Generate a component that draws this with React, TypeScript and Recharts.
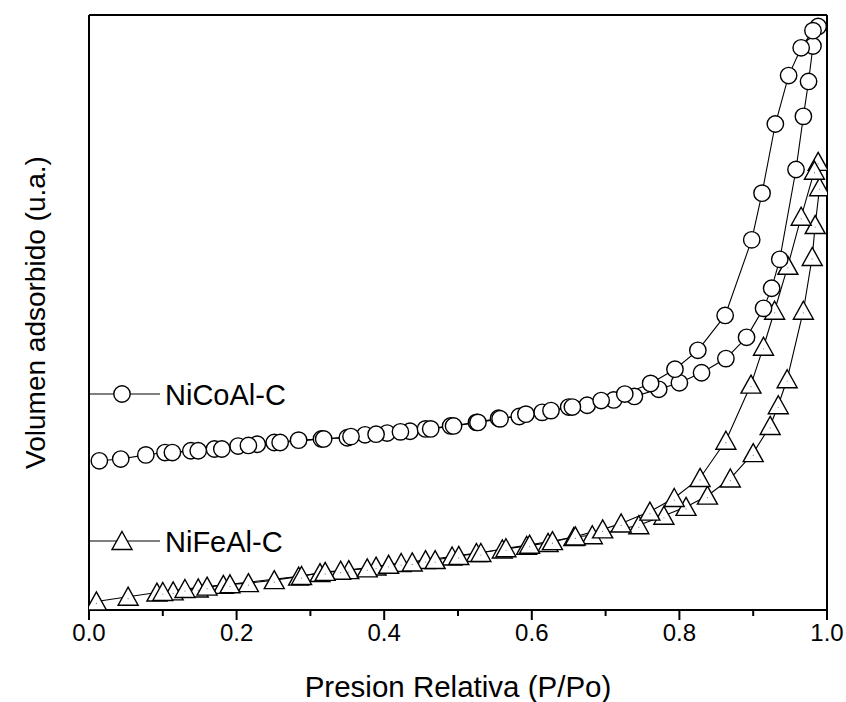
import React from 'react';
import { ComposedChart, Line, XAxis, YAxis } from 'recharts';

// relative pressure P/Po and adsorbed volume (arbitrary units)
const nicoAds = [
  [0.014, 24.4], [0.043, 24.7], [0.077, 25.4], [0.103, 25.8], [0.138, 26.1], [0.170, 26.4],
  [0.202, 26.9], [0.228, 27.2], [0.251, 27.5], [0.284, 27.9], [0.315, 28.1], [0.350, 28.3],
  [0.374, 28.8], [0.404, 29.1], [0.435, 29.4], [0.456, 29.8], [0.490, 30.3], [0.525, 30.9],
  [0.555, 31.6], [0.583, 31.9], [0.614, 32.6], [0.650, 33.5], [0.675, 33.8], [0.711, 34.7],
  [0.739, 35.3], [0.772, 36.5], [0.800, 37.6], [0.830, 39.3], [0.863, 41.7], [0.891, 45.3],
  [0.914, 50.2], [0.925, 53.6], [0.936, 58.5], [0.958, 73.7], [0.968, 82.7], [0.975, 88.6],
  [0.981, 94.6], [0.988, 97.9],
];
const nicoDes = [
  [0.981, 97.2], [0.965, 94.3], [0.948, 89.6], [0.930, 81.4], [0.912, 69.7], [0.898, 61.8],
  [0.862, 49.0], [0.825, 43.1], [0.794, 39.9], [0.761, 37.5], [0.726, 35.7], [0.694, 34.6],
  [0.655, 33.5], [0.626, 32.9], [0.592, 32.3], [0.557, 31.5], [0.527, 30.9], [0.494, 30.3],
  [0.463, 29.8], [0.422, 29.3], [0.389, 28.9], [0.355, 28.5], [0.318, 28.1], [0.259, 27.5],
  [0.216, 27.0], [0.180, 26.4], [0.148, 26.1], [0.113, 25.8],
];
const nifeAds = [
  [0.010, 0.6], [0.053, 1.4], [0.092, 2.1], [0.114, 2.3], [0.148, 2.8], [0.182, 3.4],
  [0.216, 3.7], [0.251, 4.2], [0.284, 4.8], [0.313, 5.4], [0.352, 5.9], [0.389, 6.5],
  [0.423, 7.1], [0.456, 7.6], [0.492, 8.2], [0.525, 8.8], [0.560, 9.4], [0.593, 10.0],
  [0.622, 10.5], [0.657, 11.5], [0.682, 11.8], [0.745, 13.5], [0.779, 15.1], [0.809, 16.6],
  [0.838, 18.5], [0.869, 21.4], [0.900, 25.7], [0.923, 30.3], [0.934, 33.8], [0.946, 38.2],
  [0.968, 49.8], [0.980, 58.9], [0.984, 64.3], [0.990, 70.7], [0.988, 75.0],
];
const nifeDes = [
  [0.983, 73.5], [0.965, 65.7], [0.947, 57.4], [0.929, 49.8], [0.914, 43.7], [0.897, 37.3],
  [0.863, 27.8], [0.828, 21.5], [0.793, 18.1], [0.760, 15.8], [0.721, 13.8], [0.696, 12.8],
  [0.659, 11.6], [0.628, 10.8], [0.597, 10.2], [0.565, 9.6], [0.531, 8.8], [0.501, 8.3],
  [0.469, 7.6], [0.438, 7.2], [0.406, 6.8], [0.377, 6.2], [0.341, 5.8], [0.320, 5.6],
  [0.288, 4.9], [0.191, 3.5], [0.160, 3.1], [0.130, 2.7], [0.100, 2.2],
];

const xTicks = [0, 0.1, 0.2, 0.3, 0.4, 0.5, 0.6, 0.7, 0.8, 0.9, 1.0];
const xTickLabels = ['0.0', '', '0.2', '', '0.4', '', '0.6', '', '0.8', '', '1.0'];
const rightTicks = Array.from({ length: 33 }, (_, i) => i * 3.125);

const FONT = '"Liberation Sans", Arial, sans-serif';

const toPts = (arr: number[][]) => arr.map(([p, v]) => ({ p, v }));

function CircleDot(props: any) {
  const { cx, cy, index } = props;
  if (cx == null || cy == null) return <g key={index} />;
  return <circle key={index} cx={cx} cy={cy} r={8.2} fill="#fff" stroke="#000" strokeWidth={1.4} />;
}

function TriangleDot(props: any) {
  const { cx, cy, index } = props;
  if (cx == null || cy == null) return <g key={index} />;
  const d = `M${cx},${cy - 9.5} L${cx + 10},${cy + 8.5} L${cx - 10},${cy + 8.5} Z`;
  return (
    <g key={index}>
      <path d={d} fill="#fff" stroke="#000" strokeWidth={1.4} />
      <circle cx={cx} cy={cy + 2} r={0.6} fill="#777" />
    </g>
  );
}

function BottomTick(props: any) {
  const { x, y, index } = props;
  const label = xTickLabels[index];
  return (
    <g>
      <line x1={x} x2={x} y1={y} y2={y + (label ? 10 : 6)} stroke="#000" strokeWidth={2} />
      {label && (
        <text x={x} y={y + 31} textAnchor="middle" fontSize={24} fontFamily={FONT} fill="#000">
          {label}
        </text>
      )}
    </g>
  );
}

function LegendItem({ top, label, marker }: { top: number; label: string; marker: 'circle' | 'triangle' }) {
  return (
    <svg width={240} height={40} style={{ position: 'absolute', left: 89, top: top - 20 }}>
      <line x1={0} x2={71} y1={20} y2={20} stroke="#000" strokeWidth={1.2} />
      {marker === 'circle' ? (
        <circle cx={33} cy={20} r={8.2} fill="#fff" stroke="#000" strokeWidth={1.4} />
      ) : (
        <path d="M33,10.5 L43,28.5 L23,28.5 Z" fill="#fff" stroke="#000" strokeWidth={1.4} />
      )}
      <text x={76} y={30.5} fontSize={29} fontFamily={FONT} fill="#000">{label}</text>
    </svg>
  );
}

export default function App() {
  return (
    <div style={{ position: 'absolute', left: 0, top: 0, width: 846, height: 702 }}>
      <ComposedChart width={846} height={702} margin={{ top: 14, right: 0, bottom: 0, left: 0 }}>
        <XAxis
          xAxisId="bottom"
          type="number"
          dataKey="p"
          domain={[0, 1]}
          allowDataOverflow
          ticks={xTicks}
          interval={0}
          height={92}
          tickSize={0}
          tickMargin={0}
          tickLine={false}
          tick={<BottomTick />}
          axisLine={{ stroke: '#000', strokeWidth: 2 }}
          label={{
            content: (p: any) => (
              <text
                x={p.viewBox.x + p.viewBox.width / 2}
                y={p.viewBox.y + 87}
                textAnchor="middle"
                fontSize={29.5}
                fontFamily={FONT}
                fill="#000"
              >
                Presion Relativa (P/Po)
              </text>
            ),
          }}
        />
        <XAxis
          xAxisId="top"
          orientation="top"
          type="number"
          dataKey="p"
          domain={[0, 1]}
          allowDataOverflow
          ticks={xTicks}
          interval={0}
          height={1}
          tick={false}
          tickSize={3}
          tickLine={{ stroke: '#000', strokeWidth: 1 }}
          axisLine={{ stroke: '#000', strokeWidth: 2 }}
        />
        <YAxis
          yAxisId="left"
          type="number"
          domain={[-0.85, 99.85]}
          allowDataOverflow
          width={89}
          tick={false}
          tickLine={false}
          axisLine={{ stroke: '#000', strokeWidth: 2 }}
          label={{
            content: (p: any) => {
              const cx = p.viewBox.x + 35;
              const cy = p.viewBox.y + p.viewBox.height / 2;
              return (
                <text
                  x={cx}
                  y={cy}
                  dy="0.35em"
                  transform={`rotate(-90, ${cx}, ${cy})`}
                  textAnchor="middle"
                  fontSize={28}
                  fontFamily={FONT}
                  fill="#000"
                >
                  Volumen adsorbido (u.a.)
                </text>
              );
            },
          }}
        />
        <YAxis
          yAxisId="right"
          orientation="right"
          type="number"
          domain={[-0.85, 99.85]}
          allowDataOverflow
          ticks={rightTicks}
          interval={0}
          width={19}
          tick={false}
          tickSize={3}
          tickLine={{ stroke: '#000', strokeWidth: 1 }}
          axisLine={{ stroke: '#000', strokeWidth: 2 }}
        />
        <Line
          xAxisId="bottom"
          yAxisId="left"
          data={toPts(nifeAds)}
          dataKey="v"
          type="linear"
          stroke="#000"
          strokeWidth={1.1}
          dot={TriangleDot}
          activeDot={false}
          isAnimationActive={false}
        />
        <Line
          xAxisId="bottom"
          yAxisId="left"
          data={toPts(nifeDes)}
          dataKey="v"
          type="linear"
          stroke="#000"
          strokeWidth={1.1}
          dot={TriangleDot}
          activeDot={false}
          isAnimationActive={false}
        />
        <Line
          xAxisId="bottom"
          yAxisId="left"
          data={toPts(nicoAds)}
          dataKey="v"
          type="linear"
          stroke="#000"
          strokeWidth={1.1}
          dot={CircleDot}
          activeDot={false}
          isAnimationActive={false}
        />
        <Line
          xAxisId="bottom"
          yAxisId="left"
          data={toPts(nicoDes)}
          dataKey="v"
          type="linear"
          stroke="#000"
          strokeWidth={1.1}
          dot={CircleDot}
          activeDot={false}
          isAnimationActive={false}
        />
      </ComposedChart>
      <LegendItem top={394} label="NiCoAl-C" marker="circle" />
      <LegendItem top={541} label="NiFeAl-C" marker="triangle" />
    </div>
  );
}
